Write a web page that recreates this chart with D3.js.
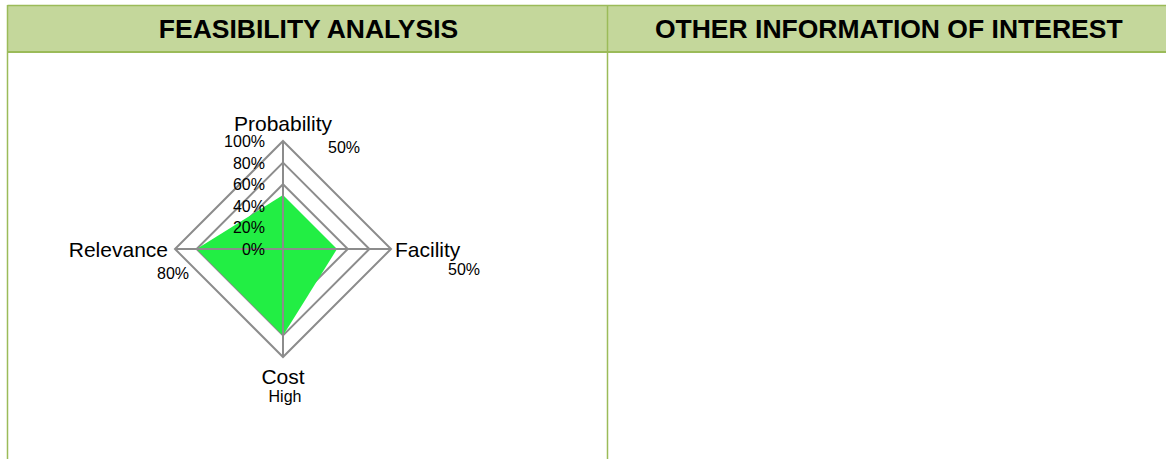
<!DOCTYPE html>
<html><head><meta charset="utf-8">
<script src="https://cdn.jsdelivr.net/npm/d3@7"></script>
<style>body{margin:0;background:#fff;} svg{display:block;font-family:"Liberation Sans",Arial,sans-serif;}</style>
</head><body>
<svg id="c" width="1166" height="459"></svg>
<script>
const headers = ["FEASIBILITY ANALYSIS", "OTHER INFORMATION OF INTEREST"];
const axes = ["Probability", "Facility", "Cost", "Relevance"];
const values = [0.5, 0.5, 0.8, 0.8];
const valueLabels = ["50%", "50%", "High", "80%"];
const ringTicks = [0, 0.2, 0.4, 0.6, 0.8, 1.0];
const tickLabels = ["0%", "20%", "40%", "60%", "80%", "100%"];

const svg = d3.select("#c");
const W = 1166, H = 459;
const border = "#9bbb59", headFill = "#c4d79b";
const divX = 607.5, leftX = 7.5, topY = 5, headBot = 52;

// header
svg.append("rect").attr("x", leftX).attr("y", topY).attr("width", W - leftX).attr("height", headBot - topY).attr("fill", headFill);
svg.append("line").attr("x1", leftX).attr("x2", W).attr("y1", topY + 0.5).attr("y2", topY + 0.5).attr("stroke", border).attr("stroke-width", 1.5);
svg.append("line").attr("x1", leftX).attr("x2", W).attr("y1", headBot).attr("y2", headBot).attr("stroke", border).attr("stroke-width", 2);
svg.append("line").attr("x1", leftX).attr("x2", leftX).attr("y1", topY).attr("y2", H).attr("stroke", border).attr("stroke-width", 1.5);
svg.append("line").attr("x1", divX).attr("x2", divX).attr("y1", topY).attr("y2", H).attr("stroke", border).attr("stroke-width", 1.5);
const headCenters = [(leftX + divX) / 2 + 1, (divX + W) / 2 + 2];
svg.selectAll("text.h").data(headers).join("text").attr("class", "h")
  .attr("x", (d, i) => headCenters[i]).attr("y", 38).attr("text-anchor", "middle")
  .attr("font-size", 26.5).attr("font-weight", "bold").attr("fill", "#000").text(d => d);

// radar
const cx = 283, cy = 249;
const r = d3.scaleLinear().domain([0, 1]).range([0, 108]);
const angle = i => i * Math.PI / 2; // 0 = up, clockwise
const pt = (i, v) => [cx + r(v) * Math.sin(angle(i)), cy - r(v) * Math.cos(angle(i))];
const grey = "#8c8c8c";
const g = svg.append("g");
const line = d3.line().curve(d3.curveLinearClosed);

// rings
g.selectAll("path.ring").data(ringTicks.filter(t => t > 0)).join("path").attr("class", "ring")
  .attr("d", t => line(axes.map((a, i) => pt(i, t)))).attr("fill", "none").attr("stroke", grey).attr("stroke-width", 2);

// data area
g.append("path").attr("d", line(values.map((v, i) => pt(i, v)))).attr("fill", "#22ee44").attr("stroke", "none");

// spokes
g.selectAll("line.spoke").data(axes).join("line").attr("class", "spoke")
  .attr("x1", cx).attr("y1", cy).attr("x2", (d, i) => pt(i, 1)[0]).attr("y2", (d, i) => pt(i, 1)[1])
  .attr("stroke", grey).attr("stroke-width", 2);

// tick labels
g.selectAll("text.tick").data(ringTicks).join("text").attr("class", "tick")
  .attr("x", cx - 18).attr("y", t => cy - r(t) + 6).attr("text-anchor", "end")
  .attr("font-size", 16).attr("fill", "#000").text((t, i) => tickLabels[i]);

// axis labels
const lab = [
  {x: cx, y: 131, a: "middle"},
  {x: cx + r(1) + 4, y: cy + 8, a: "start"},
  {x: cx, y: 384, a: "middle"},
  {x: cx - r(1) - 7, y: cy + 8, a: "end"}
];
g.selectAll("text.ax").data(axes).join("text").attr("class", "ax")
  .attr("x", (d, i) => lab[i].x).attr("y", (d, i) => lab[i].y).attr("text-anchor", (d, i) => lab[i].a)
  .attr("font-size", 21).attr("fill", "#000").text(d => d);

// value labels
const vl = [
  {x: 344, y: 153},
  {x: 464, y: 275},
  {x: 285, y: 402},
  {x: 173, y: 279}
];
g.selectAll("text.vl").data(valueLabels).join("text").attr("class", "vl")
  .attr("x", (d, i) => vl[i].x).attr("y", (d, i) => vl[i].y).attr("text-anchor", "middle")
  .attr("font-size", 16).attr("fill", "#000").text(d => d);
</script>
</body></html>
